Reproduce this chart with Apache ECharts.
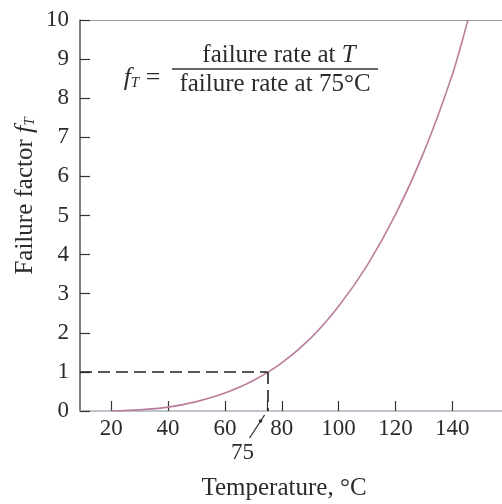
<!DOCTYPE html>
<html>
<head>
<meta charset="utf-8">
<script src="https://cdn.jsdelivr.net/npm/echarts@6/dist/echarts.min.js"></script>
<style>html,body{margin:0;padding:0;background:#fff;}#c{width:502px;height:504px;}</style>
</head>
<body>
<div id="c"></div>
<script>
// Data
var temperatures = [20, 30, 40, 50, 60, 70, 80, 90, 100, 110, 120, 130, 140, 145.5];
var failureFactor = [0.0, 0.03, 0.1, 0.24, 0.46, 0.78, 1.23, 1.85, 2.68, 3.72, 5.02, 6.62, 8.6, 10];
var xTickLabels = [20, 40, 60, 80, 100, 120, 140];
var xTickMarks = [20, 40, 60, 75, 80, 100, 120, 140];
var refTemp = 75;
var refFactor = 1;

var FONT = '"Liberation Serif", "DejaVu Serif", serif';
var TXT = '#2b2b2b';

var chart = echarts.init(document.getElementById('c'), null, {renderer: 'canvas'});
var pts = temperatures.map(function (t, i) { return [t, failureFactor[i]]; });

chart.setOption({
  animation: false,
  grid: {left: 80, right: 0, top: 20, bottom: 93, containLabel: false},
  xAxis: [{
    type: 'value', min: 9, max: 157.5,
    axisLine: {show: true, onZero: false, lineStyle: {color: '#a9b3bd', width: 1.5}},
    axisTick: {show: true, inside: true, length: 10, customValues: xTickMarks, lineStyle: {color: '#333', width: 1.2}},
    axisLabel: {customValues: xTickLabels, fontFamily: FONT, fontSize: 23, color: TXT, margin: 6},
    splitLine: {show: false}
  }, {
    type: 'value', position: 'top', min: 9, max: 157.5,
    axisLine: {show: true, onZero: false, lineStyle: {color: '#9a9a9a', width: 1.2}},
    axisTick: {show: false}, axisLabel: {show: false}, splitLine: {show: false}
  }],
  yAxis: {
    type: 'value', min: 0, max: 10, interval: 1,
    axisLine: {show: true, lineStyle: {color: '#555', width: 1.5}},
    axisTick: {show: true, inside: true, length: 10, lineStyle: {color: '#333', width: 1.2}},
    axisLabel: {fontFamily: FONT, fontSize: 23, color: TXT, margin: 11},
    splitLine: {show: false}
  },
  series: [{
    type: 'line', data: pts, smooth: 0.3, showSymbol: false,
    lineStyle: {color: '#bb7d9c', width: 1.6},
    markLine: {
      symbol: 'none', silent: true, label: {show: false},
      lineStyle: {color: '#222', type: [12, 6], width: 1.6},
      data: [
        [{coord: [9, refFactor]}, {coord: [refTemp, refFactor]}],
        [{coord: [refTemp, refFactor]}, {coord: [refTemp, 0]}]
      ]
    }
  }]
});

var p = chart.convertToPixel({xAxisIndex: 0, yAxisIndex: 0}, [refTemp, 0]);

chart.setOption({
  graphic: [
    // 75 pointer
    {type: 'line', shape: {x1: p[0] - 3, y1: p[1] + 4, x2: p[0] - 18, y2: p[1] + 27}, style: {stroke: '#333', lineWidth: 1.3}},
    {type: 'circle', shape: {cx: p[0] - 7, cy: p[1] + 10, r: 1.8}, style: {fill: '#333'}},
    {type: 'text', x: p[0] - 25, y: p[1] + 42, style: {text: String(refTemp), font: '23px ' + FONT, fill: TXT, align: 'center', verticalAlign: 'middle'}},
    // axis titles
    {type: 'text', x: 284, y: 488, style: {text: 'Temperature, °C', font: '25px ' + FONT, fill: TXT, align: 'center', verticalAlign: 'middle'}},
    {type: 'text', x: 25, y: 196, rotation: Math.PI / 2,
      style: {
        text: '{n|Failure factor }{f|f}{s|T}',
        align: 'center', verticalAlign: 'middle',
        rich: {
          n: {font: '25px ' + FONT, fill: TXT},
          f: {font: 'italic 26px ' + FONT, fill: TXT},
          s: {font: 'italic 15px ' + FONT, fill: TXT, padding: [11, 0, 0, 0]}
        }
      }},
    // formula
    {type: 'text', x: 142, y: 78,
      style: {
        text: '{f|f}{s|T}{e| =}',
        align: 'center', verticalAlign: 'middle',
        rich: {
          f: {font: 'italic 26px ' + FONT, fill: TXT},
          s: {font: 'italic 15px ' + FONT, fill: TXT, padding: [11, 0, 0, 0]},
          e: {font: '26px ' + FONT, fill: TXT}
        }
      }},
    {type: 'text', x: 279, y: 55,
      style: {
        text: '{a|failure rate at }{b|T}',
        align: 'center', verticalAlign: 'middle',
        rich: {
          a: {font: '25px ' + FONT, fill: TXT},
          b: {font: 'italic 25px ' + FONT, fill: TXT}
        }
      }},
    {type: 'line', shape: {x1: 172, y1: 69, x2: 378, y2: 69}, style: {stroke: '#333', lineWidth: 1.3}},
    {type: 'text', x: 275, y: 84, style: {text: 'failure rate at 75°C', font: '25px ' + FONT, fill: TXT, align: 'center', verticalAlign: 'middle'}}
  ]
});
</script>
</body>
</html>
